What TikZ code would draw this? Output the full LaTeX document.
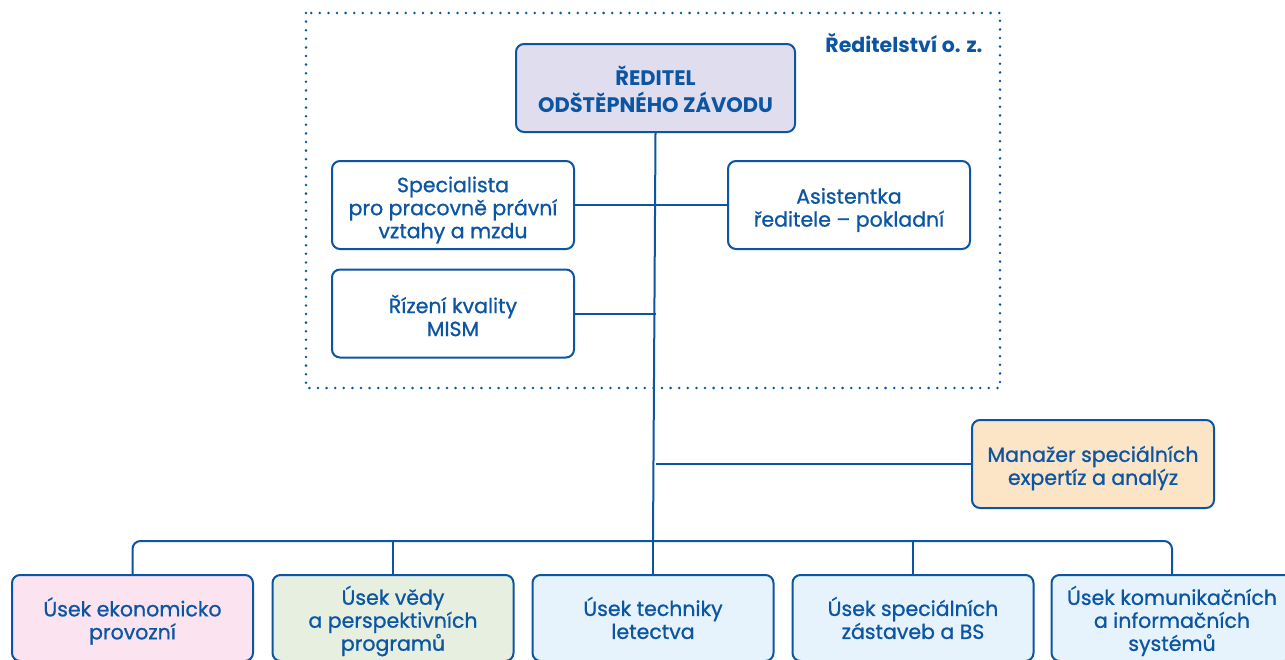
\documentclass[tikz,border=0pt]{standalone}
\usepackage{fontspec}
\setmainfont{Poppins}
\newfontfamily\medfont[FakeBold=0.9]{Poppins}
\definecolor{navy}{HTML}{0B55A3}
\definecolor{lav}{HTML}{E0DEEE}
\definecolor{peach}{HTML}{FCE4C6}
\definecolor{pinkf}{HTML}{FBE3F0}
\definecolor{greenf}{HTML}{E7F0E0}
\definecolor{bluef}{HTML}{E6F2FC}
\tikzset{
  box/.style={draw=navy, line width=2pt, rounded corners=8pt, inner sep=0pt},
  tx/.style={align=center, text=navy, inner sep=0pt, yshift=-4pt,
    font=\medfont\fontsize{20.5}{23}\selectfont},
  smallbox/.style={box, minimum width=242pt, minimum height=88pt},
  unitbox/.style={box, minimum width=241pt, minimum height=86pt},
  conn/.style={draw=navy, line width=2pt},
}
\begin{document}
\begin{tikzpicture}[x=1pt,y=-1pt]
\useasboundingbox (0,0) rectangle (1285,659);
\clip (0,0) rectangle (1285,659);
% frame
\draw[navy, line width=2.8pt, line cap=round, dash pattern=on 0pt off 8.6pt] (306,13) rectangle (1000,388);
\node[anchor=east, text=navy, font=\bfseries\fontsize{20.5}{22}\selectfont] (lbl) at (986,43) {Ředitelství o. z.};
% director
\node[box, fill=lav, minimum width=279pt, minimum height=88pt,
  label={[tx, name=dir-t, yshift=3pt, font=\bfseries\fontsize{21}{27}\selectfont]center:{ŘEDITEL\\ODŠTĚPNÉHO ZÁVODU}}] (dir) at (655.5,88) {};
\node[smallbox, fill=white, label={[tx, name=spec-t, yshift=-1pt]center:{Specialista\\pro pracovně právní\\vztahy a mzdu}}] (spec) at (453,205) {};
\node[smallbox, fill=white, label={[tx, name=asis-t, yshift=-1pt]center:{Asistentka\\ředitele – pokladní}}] (asis) at (849,205) {};
\node[smallbox, fill=white, label={[tx, name=kval-t, yshift=2pt]center:{Řízení kvality\\MISM}}] (kval) at (453,313.5) {};
\node[smallbox, fill=peach, label={[tx, name=man-t]center:{Manažer speciálních\\expertíz a analýz}}] (man) at (1093,464) {};
% units
\node[unitbox, fill=pinkf, label={[tx, name=u1-t, yshift=1pt]center:{Úsek ekonomicko\\provozní}}] (u1) at (132.5,618) {};
\node[unitbox, fill=greenf, label={[tx, name=u2-t, yshift=1pt]center:{Úsek vědy\\a perspektivních\\programů}}] (u2) at (393,618) {};
\node[unitbox, fill=bluef, label={[tx, name=u3-t, yshift=4pt]center:{Úsek techniky\\letectva}}] (u3) at (653,618) {};
\node[unitbox, fill=bluef, label={[tx, name=u4-t, yshift=4pt]center:{Úsek speciálních\\zástaveb a BS}}] (u4) at (913,618) {};
\node[unitbox, fill=bluef, label={[tx, name=u5-t, yshift=1pt]center:{Úsek komunikačních\\a informačních\\systémů}}] (u5) at (1172,618) {};
% connectors
\coordinate (bus) at (653,541);
\draw[conn] (dir.south) -- (bus);
\draw[conn] (spec.east) -- (asis.west);
\draw[conn] (kval.east) -- (kval.east -| dir.south);
\draw[conn] (man.west) -- (man.west -| dir.south);
\draw[conn, rounded corners=8pt] (u1.north) -- (u1.north |- bus) -- (u5.north |- bus) -- (u5.north);
\draw[conn] (u2.north) -- (u2.north |- bus);
\draw[conn] (u3.north) -- (bus);
\draw[conn] (u4.north) -- (u4.north |- bus);
\end{tikzpicture}
\end{document}
